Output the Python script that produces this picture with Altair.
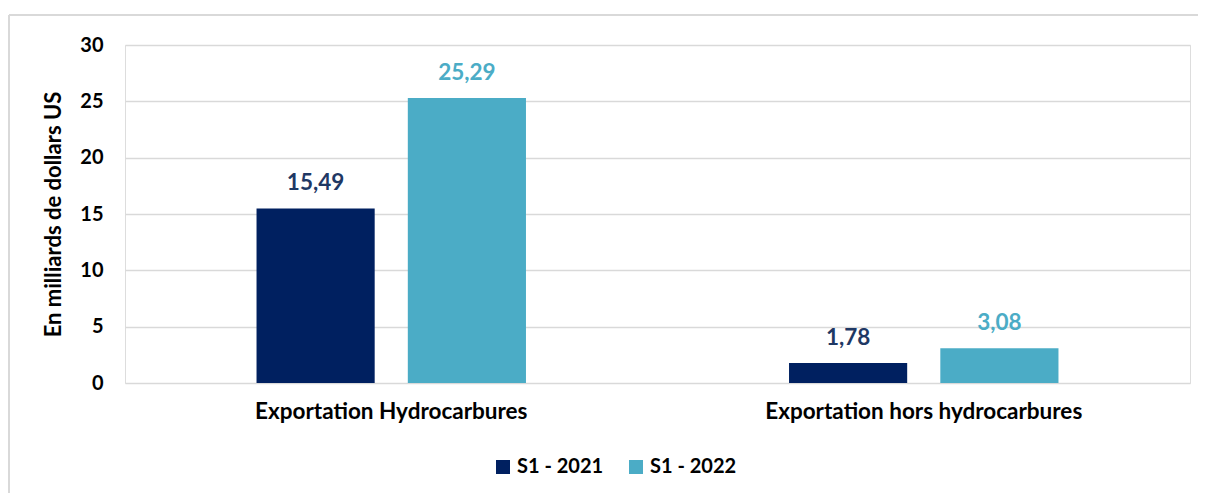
import altair as alt
import pandas as pd

categories = ["Exportation Hydrocarbures", "Exportation hors hydrocarbures"]
series = ["S1 - 2021", "S1 - 2022"]
values_2021 = [15.49, 1.78]
values_2022 = [25.29, 3.08]
colors = ["#002060", "#4BACC6"]
label_colors = ["#1F3864", "#4BACC6"]

rows = []
for i, c in enumerate(categories):
    rows.append({"cat": c, "serie": series[0], "v": values_2021[i]})
    rows.append({"cat": c, "serie": series[1], "v": values_2022[i]})
df = pd.DataFrame(rows)

FONT = "Lato"
W, H = 1065, 338

x = alt.X("cat:N", sort=categories, title=None,
          scale=alt.Scale(paddingInner=0.494, paddingOuter=0.247),
          axis=alt.Axis(labelAngle=0, labelFont=FONT, labelFontWeight="bold",
                        labelFontSize=22.5, labelColor="#000000", labelPadding=17,
                        labelLimit=0, ticks=False, domain=False))
xo = alt.XOffset("serie:N", sort=series,
                 scale=alt.Scale(paddingInner=0.219, paddingOuter=0))
y = alt.Y("v:Q", title="En milliards de dollars US",
          scale=alt.Scale(domain=[0, 30]),
          axis=alt.Axis(values=[0, 5, 10, 15, 20, 25, 30], labelFont=FONT,
                        labelFontWeight="bold", labelFontSize=20, labelColor="#000000",
                        labelPadding=22, ticks=False, domain=False,
                        gridColor="#D9D9D9", gridWidth=1.5,
                        titleFont=FONT, titleFontWeight="bold", titleFontSize=22,
                        titleColor="#000000", titlePadding=14))
color = alt.Color("serie:N", sort=series,
                  scale=alt.Scale(domain=series, range=colors),
                  legend=alt.Legend(title=None, orient="none", direction="horizontal",
                                    legendX=368, legendY=412, symbolType="square",
                                    symbolSize=196, symbolStrokeWidth=0,
                                    labelFont=FONT, labelFontWeight="bold",
                                    labelFontSize=20, labelColor="#000000",
                                    columnPadding=22, labelOffset=4))

bars = alt.Chart(df).mark_bar().encode(x=x, xOffset=xo, y=y, color=color)

text = alt.Chart(df).transform_calculate(
    lab="replace(format(datum.v, '.2f'), '.', ',')"
).mark_text(font=FONT, fontWeight="bold", fontSize=22.5, baseline="alphabetic", dy=-18).encode(
    x=x, xOffset=xo, y=y, text="lab:N",
    color=alt.Color("serie:N", sort=series,
                    scale=alt.Scale(domain=series, range=label_colors), legend=None),
)

one = pd.DataFrame({"a": [0]})
frame_top = alt.Chart(one).mark_rule(stroke="#D9D9D9", strokeWidth=2).encode(
    x=alt.value(-116), x2=alt.value(W + 8), y=alt.value(-30))
frame_left = alt.Chart(one).mark_rule(stroke="#D9D9D9", strokeWidth=2).encode(
    x=alt.value(-116), y=alt.value(-30), y2=alt.value(H + 130))

chart = alt.layer(frame_top, frame_left, bars, text).resolve_scale(color="independent").properties(
    width=W, height=H, padding={"left": 117, "top": 37, "right": 8, "bottom": 110},
    autosize=alt.AutoSizeParams(type="none"),
).configure_view(stroke=None).configure(background="white")

chart.save("out.html", embed_options={"renderer": "svg", "actions": False})
